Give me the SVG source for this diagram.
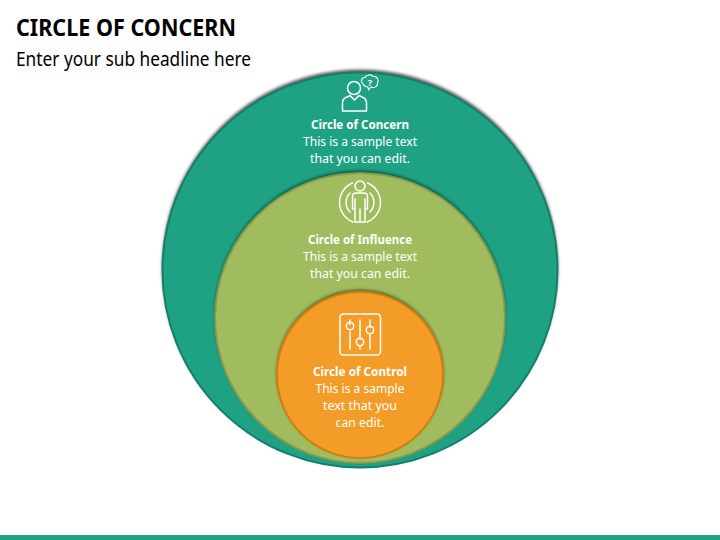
<svg xmlns="http://www.w3.org/2000/svg" width="720" height="540" viewBox="0 0 720 540">
<style>
text{font-family:"Noto Sans","Open Sans","Liberation Sans",sans-serif}
.t{font-size:12.500px;fill:#fff;text-anchor:middle}
.b{font-weight:700}
.i{fill:none;stroke:#fff;stroke-width:1.500;stroke-linecap:round;stroke-linejoin:round}
</style>
<defs>
<filter id="s" x="-10%" y="-10%" width="120%" height="120%"><feGaussianBlur stdDeviation="1.800"/></filter>
</defs>
<rect width="720" height="540" fill="#fff"/>
<text x="16" y="36" font-size="23.500" font-weight="700" fill="#000" textLength="220" lengthAdjust="spacingAndGlyphs">CIRCLE OF CONCERN</text>
<text x="16" y="65.500" font-size="19" fill="#000" textLength="235" lengthAdjust="spacingAndGlyphs">Enter your sub headline here</text>
<g id="circle-concern">
<circle cx="360" cy="267.500" r="198" fill="#333" opacity=".8" filter="url(#s)"/>
<circle cx="360" cy="270" r="197.500" fill="#1fa284" stroke="#14806a" stroke-width="2"/>
<g class="i">
<circle cx="354" cy="88" r="6.500"/>
<path d="M342.500 111V103Q342.500 98.500 347 97L350 95.500L354.500 100L359 95.500L362 97Q366.500 98.500 366.500 103V111Z"/>
<path d="M363 84C360 81 362 77 365 77.500C366 74.500 371.500 74 373 76.500C376.500 75.500 379.500 80 377.500 83C378 86.500 374 88.500 371 87L368.500 90L368 87C366 87 364 86 363 84Z" stroke-width="1.100"/>
</g>
<text x="370" y="85.500" font-size="9" font-weight="700" fill="#fff" text-anchor="middle">?</text>
<text class="t b" x="360" y="129" textLength="98" lengthAdjust="spacingAndGlyphs">Circle of Concern</text>
<text class="t" x="360" y="146" textLength="114" lengthAdjust="spacingAndGlyphs">This is a sample text</text>
<text class="t" x="360" y="163" textLength="100" lengthAdjust="spacingAndGlyphs">that you can edit.</text>
</g>
<g id="circle-influence">
<circle cx="360" cy="316" r="145.500" fill="#064a3a" opacity=".85" filter="url(#s)"/>
<circle cx="360" cy="318" r="145" fill="#a0bc5e" stroke="#85994c" stroke-width="2"/>
<g class="i">
<circle cx="360" cy="186" r="5"/>
<path d="M356 193H364Q367.500 193 367.500 196.500V209H365V222H355V209H352.500V196.500Q352.500 193 356 193ZM355 199V209M365 199V209M360 209V222"/>
<path d="M352.500 183A21 21 0 0 0 353 222M367.500 183A21 21 0 0 1 367 222"/>
<path d="M350 193A13.500 13.500 0 0 0 350 212M370 193A13.500 13.500 0 0 1 370 212"/>
</g>
<text class="t b" x="360" y="244" textLength="104" lengthAdjust="spacingAndGlyphs">Circle of Influence</text>
<text class="t" x="360" y="261" textLength="114" lengthAdjust="spacingAndGlyphs">This is a sample text</text>
<text class="t" x="360" y="278" textLength="100" lengthAdjust="spacingAndGlyphs">that you can edit.</text>
</g>
<g id="circle-control">
<circle cx="360" cy="373" r="83.500" fill="#3f5a20" opacity=".85" filter="url(#s)"/>
<circle cx="360" cy="375" r="83" fill="#f49c28" stroke="#d17e12" stroke-width="2"/>
<g class="i">
<rect x="340" y="314" width="40.500" height="41" rx="3.500"/>
<path d="M350 320V324.500M350 332V349M360 320V339M360 346.500V349M370 320V327.500M370 335V349"/>
<circle cx="350" cy="326" r="3.700"/>
<circle cx="360" cy="342" r="3.700"/>
<circle cx="370" cy="330" r="3.700"/>
</g>
<text class="t b" x="360" y="376" textLength="94" lengthAdjust="spacingAndGlyphs">Circle of Control</text>
<text class="t" x="360" y="393" textLength="89" lengthAdjust="spacingAndGlyphs">This is a sample</text>
<text class="t" x="360" y="410" textLength="74" lengthAdjust="spacingAndGlyphs">text that you</text>
<text class="t" x="360" y="427" textLength="49" lengthAdjust="spacingAndGlyphs">can edit.</text>
</g>
<rect id="footer-bar" x="0" y="535" width="720" height="5" fill="#1fa284"/>
</svg>
